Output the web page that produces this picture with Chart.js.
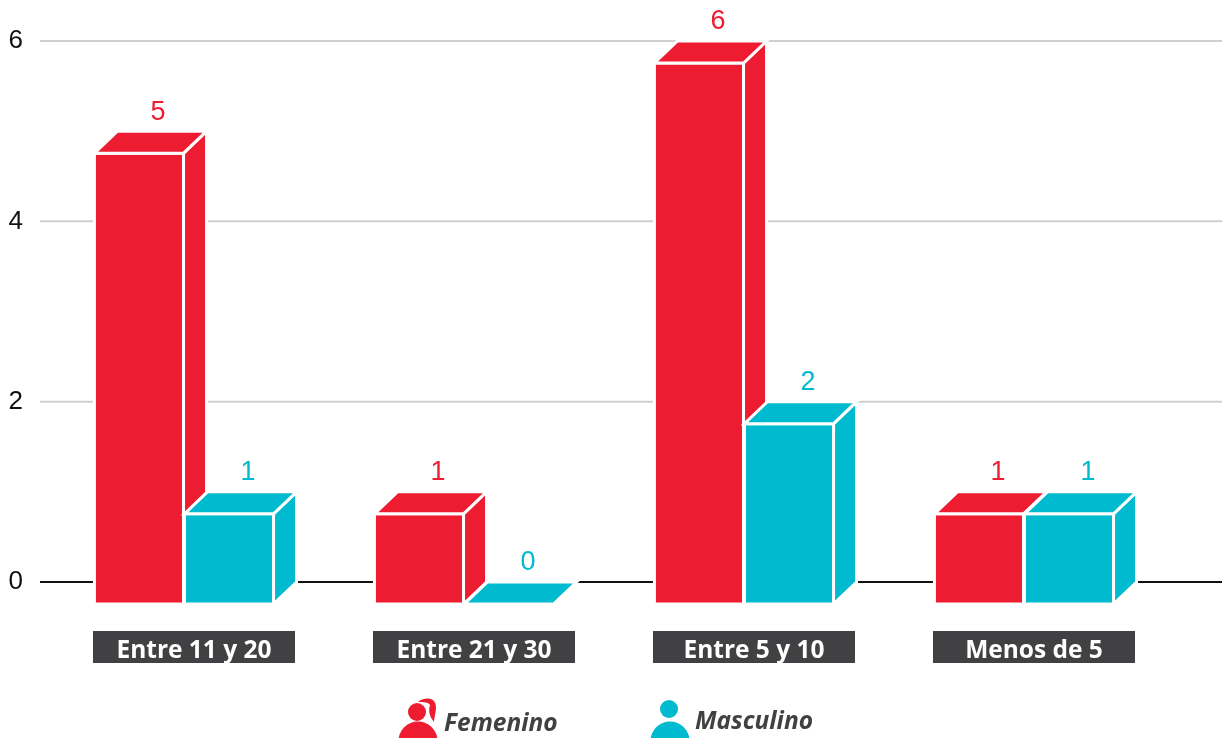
<!DOCTYPE html>
<html>
<head>
<meta charset="utf-8">
<title>Chart</title>
<script src="https://cdn.jsdelivr.net/npm/chart.js@4/dist/chart.umd.min.js"></script>
<style>
  html, body { margin: 0; padding: 0; background: #fff; overflow: hidden; }
  canvas { display: block; }
</style>
</head>
<body>
<canvas id="edadChart" width="1222" height="738"></canvas>
<script>
const categories = ['Entre 11 y 20', 'Entre 21 y 30', 'Entre 5 y 10', 'Menos de 5'];
const femenino = [5, 1, 6, 1];
const masculino = [1, 0, 2, 1];
const yTicks = [0, 2, 4, 6];

const RED = '#ee1c31';
const BLUE = '#00bbcf';
const DARK = '#414042';
const DX = 23;   // depth of the cube
const DY = 22;

function poly(ctx, pts, color) {
  ctx.beginPath();
  ctx.moveTo(pts[0][0], pts[0][1]);
  for (let i = 1; i < pts.length; i++) ctx.lineTo(pts[i][0], pts[i][1]);
  ctx.closePath();
  ctx.fillStyle = color;
  ctx.fill();
  ctx.stroke();
}

// grid lines run past the plot area on both sides
const gridPlugin = {
  id: 'gridLines',
  beforeDatasetsDraw(chart) {
    const ctx = chart.ctx, y = chart.scales.y;
    ctx.save();
    ctx.lineWidth = 2;
    yTicks.forEach(v => {
      const py = y.getPixelForValue(v);
      ctx.strokeStyle = v === 0 ? '#111' : '#cfcfcf';
      ctx.beginPath();
      ctx.moveTo(40, py);
      ctx.lineTo(1222, py);
      ctx.stroke();
    });
    ctx.restore();
  }
};

// turns each bar into a cube and writes its value above
const cubePlugin = {
  id: 'cubes',
  afterDatasetsDraw(chart) {
    const ctx = chart.ctx;
    ctx.save();
    ctx.lineJoin = 'miter';
    chart.data.datasets.forEach((ds, i) => {
      chart.getDatasetMeta(i).data.forEach((bar, j) => {
        const r = bar.x + bar.width / 2, l = bar.x - bar.width / 2;
        const top = bar.y, base = bar.base;
        ctx.strokeStyle = '#fff';
        ctx.lineWidth = 3;
        if (top !== base) {
          poly(ctx, [[l - DX, top + DY], [r - DX, top + DY], [r - DX, base + DY], [l - DX, base + DY]], ds.backgroundColor);
          poly(ctx, [[r - DX, top + DY], [r, top], [r, base], [r - DX, base + DY]], ds.backgroundColor);
        }
        poly(ctx, [[l - DX, top + DY], [l, top], [r, top], [r - DX, top + DY]], ds.backgroundColor);
        ctx.fillStyle = ds.backgroundColor;
        ctx.font = '27px "Liberation Sans"';
        ctx.textAlign = 'center';
        ctx.textBaseline = 'middle';
        ctx.fillText(ds.data[j], bar.x - 4, top - 19);
      });
    });
    ctx.restore();
  }
};

// dark plates behind the category labels
const platePlugin = {
  id: 'plates',
  beforeDraw(chart) {
    const ctx = chart.ctx, x = chart.scales.x;
    ctx.save();
    ctx.fillStyle = DARK;
    categories.forEach((c, i) => {
      ctx.fillRect(x.getPixelForTick(i) - 13 - 101, 631, 202, 32);
    });
    ctx.restore();
  }
};

function drawPerson(ctx, cx, headY, color, ponytail) {
  ctx.fillStyle = color;
  ctx.beginPath();
  ctx.arc(cx, headY, 9, 0, Math.PI * 2);
  ctx.fill();
  ctx.beginPath();
  ctx.arc(cx + 1, 741, 19.5, Math.PI, 0);
  ctx.closePath();
  ctx.fill();
  if (ponytail) {
    ctx.beginPath();
    ctx.moveTo(cx + 1, 702);
    ctx.bezierCurveTo(cx + 6, 697, cx + 19, 696, cx + 19, 707);
    ctx.bezierCurveTo(cx + 19, 713, cx + 17, 717, cx + 17, 722);
    ctx.bezierCurveTo(cx + 13, 717, cx + 11, 712, cx + 13, 705);
    ctx.bezierCurveTo(cx + 11, 702, cx + 7, 702, cx + 1, 702);
    ctx.fill();
  }
}

const legendPlugin = {
  id: 'personLegend',
  afterDraw(chart) {
    const ctx = chart.ctx;
    ctx.save();
    drawPerson(ctx, 417, 712, RED, true);
    drawPerson(ctx, 669, 709, BLUE, false);
    ctx.fillStyle = DARK;
    ctx.font = 'italic bold 24.5px "Open Sans"';
    ctx.textAlign = 'left';
    ctx.textBaseline = 'alphabetic';
    ctx.fillText(chart.data.datasets[0].label, 444, 731);
    ctx.fillText(chart.data.datasets[1].label, 695, 729);
    ctx.restore();
  }
};

new Chart(document.getElementById('edadChart').getContext('2d'), {
  type: 'bar',
  data: {
    labels: categories,
    datasets: [
      { label: 'Femenino', data: femenino, backgroundColor: RED },
      { label: 'Masculino', data: masculino, backgroundColor: BLUE }
    ]
  },
  options: {
    responsive: false,
    animation: false,
    categoryPercentage: 0.643,
    barPercentage: 0.99,
    layout: { padding: { left: 0, right: 35, top: 41, bottom: 0 } },
    plugins: {
      legend: { display: false },
      title: { display: false },
      tooltip: { enabled: false }
    },
    scales: {
      x: {
        grid: { display: false },
        border: { display: false },
        afterFit(scale) { scale.height = 156; },
        ticks: {
          color: '#fff',
          font: { family: 'Open Sans', size: 24.5, weight: 'bold' },
          padding: 46,
          labelOffset: -13,
          maxRotation: 0,
          autoSkip: false
        }
      },
      y: {
        min: 0,
        max: 6,
        grid: { display: false },
        border: { display: false },
        afterFit(scale) {
          scale.width = 67;
          scale.paddingTop = 0;
          scale.paddingBottom = 0;
        },
        afterBuildTicks(scale) { scale.ticks = yTicks.map(v => ({ value: v })); },
        ticks: {
          color: '#111',
          font: { family: 'Liberation Sans', size: 26 },
          padding: 36
        }
      }
    }
  },
  plugins: [platePlugin, gridPlugin, cubePlugin, legendPlugin]
});
</script>
</body>
</html>
